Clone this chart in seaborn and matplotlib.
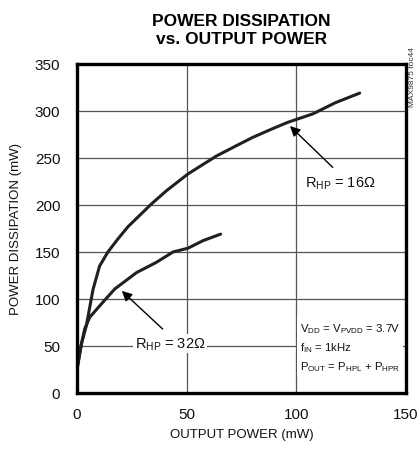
import numpy as np
import seaborn as sns
import matplotlib.pyplot as plt
import pandas as pd

# 16 ohm curve
p16 = [0, 2, 4.3, 7.3, 10.3, 14.1, 18.7, 23.3, 33.9, 40.7, 50.6, 63.5, 72.6, 80.2, 90, 96.2, 107.6, 118, 128.9]
d16 = [25, 52, 72, 110, 135, 150, 164, 177, 201, 215, 233, 252, 263, 272, 282, 288, 297, 309, 319]
# 32 ohm curve
p32 = [0, 2, 3.5, 5.8, 11.1, 17.2, 27.1, 36.2, 43.8, 50.6, 57.4, 65.5]
d32 = [25, 52, 68, 80.5, 94.7, 110.6, 128, 139, 150, 154, 162, 169]

df = pd.concat([
    pd.DataFrame({"pout": p16, "pdiss": d16, "load": "16"}),
    pd.DataFrame({"pout": p32, "pdiss": d32, "load": "32"}),
])

sns.set_style("white")
plt.rcParams['font.family'] = ['Liberation Sans', 'DejaVu Sans']
plt.rcParams['mathtext.fontset'] = 'custom'
plt.rcParams['mathtext.rm'] = 'Liberation Sans'
plt.rcParams['mathtext.default'] = 'rm'
plt.rcParams['text.color'] = '#111111'

fig = plt.figure(figsize=(4.2, 4.56), dpi=100)
ax = fig.add_axes([0.1833, 0.136, 0.7833, 0.7215])

sns.lineplot(data=df, x="pout", y="pdiss", units="load", estimator=None,
             color="#231f20", lw=2.2, sort=False, ax=ax, legend=False)

ax.set_xlim(0, 150)
ax.set_ylim(0, 350)
ax.set_xticks([0, 50, 100, 150])
ax.set_yticks(np.arange(0, 351, 50))
ax.grid(True, color="#555555", lw=0.9)
ax.set_axisbelow(True)
for s in ax.spines.values():
    s.set_linewidth(2.4)
    s.set_color("black")
ax.tick_params(length=0, labelsize=11, colors="#111111")
ax.tick_params(axis="y", pad=12)
ax.tick_params(axis="x", pad=10)
ax.set_xlabel("OUTPUT POWER (mW)", fontsize=9.5, labelpad=5, color="#111111")
ax.set_ylabel("POWER DISSIPATION (mW)", fontsize=9.5, labelpad=9, color="#111111")

fig.text(0.575, 0.933, "POWER DISSIPATION\nvs. OUTPUT POWER", ha="center", va="center",
         fontsize=12.5, fontweight="bold", linespacing=1.3, color="black")
fig.text(0.982, 0.83, "MAX9875 toc44", rotation=90, ha="center", va="center", fontsize=6, color="#333333")

ax.annotate("", xy=(96.2, 286), xytext=(117.5, 238),
            arrowprops=dict(arrowstyle="-|>", color="black", lw=1.0, mutation_scale=15))
ax.text(103.8, 224, r"R$_{HP}$ = 16$\Omega$", fontsize=10.5, va="center", ha="left")

ax.annotate("", xy=(19.5, 110.6), xytext=(40, 66),
            arrowprops=dict(arrowstyle="-|>", color="black", lw=1.0, mutation_scale=15))
ax.text(26.3, 52.7, r"R$_{HP}$ = 32$\Omega$", fontsize=10.5, va="center", ha="left",
        bbox=dict(facecolor="white", edgecolor="none", pad=1))

ax.text(101.5, 49, "V$_{DD}$ = V$_{PVDD}$ = 3.7V\nf$_{IN}$ = 1kHz\nP$_{OUT}$ = P$_{HPL}$ + P$_{HPR}$",
        fontsize=8.2, va="center", ha="left", linespacing=1.55,
        bbox=dict(facecolor="white", edgecolor="none", pad=2))

fig.savefig("out.png", dpi=100)
